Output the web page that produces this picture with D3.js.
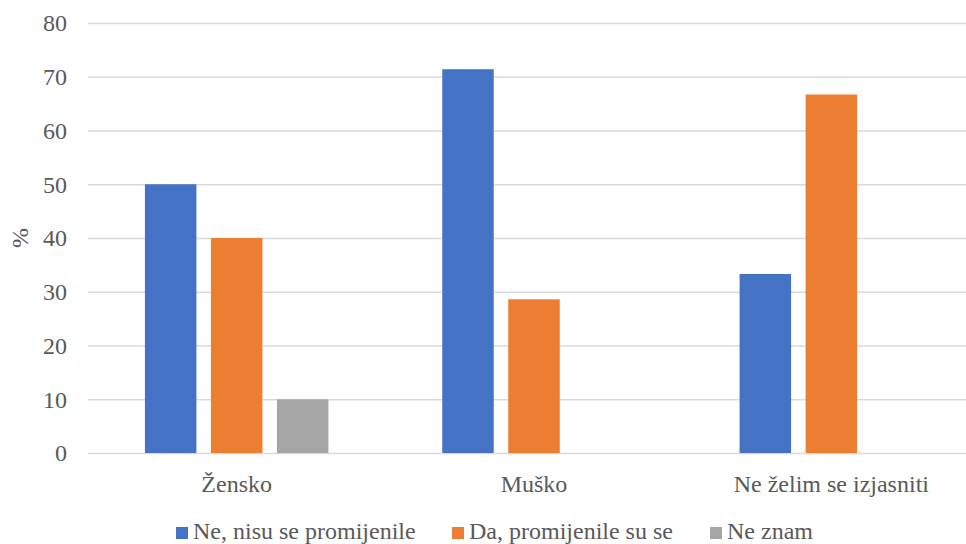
<!DOCTYPE html>
<html>
<head>
<meta charset="utf-8">
<script src="https://cdn.jsdelivr.net/npm/d3@7"></script>
<style>
  html, body { margin: 0; padding: 0; background: #fff; }
  svg { display: block; }
  svg text { font-family: 'Liberation Serif', 'Times New Roman', Times, 'DejaVu Serif', serif !important; fill: #595959; }
</style>
</head>
<body>
<svg id="chart" width="966" height="544"></svg>
<script>
const categories = ["Žensko", "Muško", "Ne želim se izjasniti"];
const seriesNames = ["Ne, nisu se promijenile", "Da, promijenile su se", "Ne znam"];
const seriesColors = ["#4472C4", "#ED7D31", "#A5A5A5"];
const valuesNe = [50, 71.4, 33.3];
const valuesDa = [40, 28.6, 66.7];
const valuesNeZnam = [10, 0, 0];
const yTicks = [0, 10, 20, 30, 40, 50, 60, 70, 80];
const yTitle = "%";

(function () {
const FONT = "'Liberation Serif', 'Times New Roman', Times, 'DejaVu Serif', serif";
const seriesValues = [valuesNe, valuesDa, valuesNeZnam];
const data = categories.map((c, i) => ({
  cat: c,
  vals: seriesNames.map((s, j) => ({ s, j, v: seriesValues[j][i] }))
}));

const svg = d3.select("#chart");
const mLeft = 88, mRight = 980, mTop = 23, mBottom = 453;

const y = d3.scaleLinear().domain([0, 80]).range([mBottom, mTop]);
const x0 = d3.scaleBand().domain(categories).range([mLeft, mRight]).padding(0);
const groupW = 183.5;
const gOff = (x0.bandwidth() - groupW) / 2;
const x1 = d3.scaleBand().domain(seriesNames).range([gOff, gOff + groupW]).paddingInner(0.22).paddingOuter(0);

// gridlines
const yAxis = d3.axisLeft(y).tickValues(yTicks).tickSize(-(966 - mLeft)).tickPadding(21).tickFormat(d3.format("d"));
const ga = svg.append("g").attr("transform", `translate(${mLeft},0)`).call(yAxis)
  .attr("font-family", null).attr("font-size", null);
ga.select(".domain").remove();
ga.selectAll(".tick line").attr("stroke", "#d9d9d9").attr("stroke-width", 1.5);
ga.selectAll(".tick text").style("font-size", "24px").style("fill", "#595959")
  .style("font-family", FONT).attr("dy", "0.33em");

// bars
const groups = svg.append("g").selectAll("g").data(data).join("g")
  .attr("transform", d => `translate(${x0(d.cat)},0)`);
groups.selectAll("rect").data(d => d.vals.filter(v => v.v > 0)).join("rect")
  .attr("x", d => x1(d.s))
  .attr("width", x1.bandwidth())
  .attr("y", d => y(d.v))
  .attr("height", d => y(0) - y(d.v))
  .attr("fill", d => seriesColors[d.j]);

// x axis labels
const xAxis = d3.axisBottom(x0).tickSize(0).tickPadding(22);
const gx = svg.append("g").attr("transform", `translate(0,${mBottom})`).call(xAxis)
  .attr("font-family", null).attr("font-size", null);
gx.select(".domain").remove();
gx.selectAll(".tick text").style("font-size", "24px").style("fill", "#595959")
  .style("font-family", FONT);

// y title
svg.append("text")
  .attr("transform", `translate(28,${(mTop + mBottom) / 2}) rotate(-90)`)
  .attr("text-anchor", "middle")
  .style("font-size", "24px").style("font-family", FONT)
  .text(yTitle);

// legend
const legendX = [176, 452, 710];
const lg = svg.append("g");
seriesNames.forEach((s, i) => {
  lg.append("rect").attr("x", legendX[i]).attr("y", 527).attr("width", 12).attr("height", 12).attr("fill", seriesColors[i]);
  lg.append("text").attr("x", legendX[i] + 17).attr("y", 539)
    .style("font-size", "24px").style("font-family", FONT).text(s);
});
})();
</script>
</body>
</html>
